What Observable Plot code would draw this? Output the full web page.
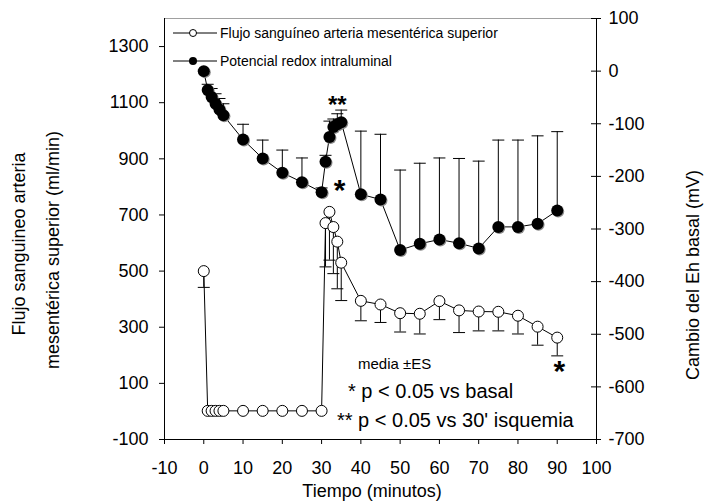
<!DOCTYPE html>
<html><head><meta charset="utf-8">
<script src="https://cdn.jsdelivr.net/npm/d3@7"></script>
<script src="https://cdn.jsdelivr.net/npm/@observablehq/plot@0.6"></script>
<style>
body{margin:0;background:#fff;}
#wrap{position:relative;width:704px;height:502px;font-family:"Liberation Sans",Arial,sans-serif;color:#000;overflow:hidden;}
#wrap svg{position:absolute;left:0;top:0;}
.t{position:absolute;white-space:nowrap;line-height:1;}
.rot{transform:translate(-50%,-50%) rotate(-90deg);}
.leg{position:absolute;left:172px;height:16px;display:flex;align-items:center;font-size:14px;white-space:nowrap;}
</style></head><body><div id="wrap"></div>
<script>
// ---- data ----
const tiempo   = [0, 1, 2, 3, 4, 5, 10, 15, 20, 25, 30, 31, 32, 33, 34, 35, 40, 45, 50, 55, 60, 65, 70, 75, 80, 85, 90];
const flujo    = [500, 2, 2, 2, 2, 2, 2, 2, 2, 2, 2, 671, 711, 657, 605, 530, 394, 381, 350, 348, 393, 360, 356, 355, 341, 302, 263];
const flujoES  = [58, 0, 0, 0, 0, 0, 0, 0, 0, 0, 0, 156, 172, 166, 168, 135, 71, 64, 67, 72, 66, 79, 69, 68, 65, 66, 65];
const redox    = [0, -36, -49, -62, -73, -84, -130, -166, -193, -211, -230, -172, -125, -106, -101, -97, -234, -244, -340, -328, -320, -327, -337, -296, -296, -290, -265];
const redoxES  = [2, 11, 16, 19, 21, 22, 29, 35, 43, 46, 8, 12, 30, 15, 20, 23, 120, 124, 152, 153, 155, 161, 166, 165, 165, 167, 150];
const xTicks   = [-10, 0, 10, 20, 30, 40, 50, 60, 70, 80, 90, 100];
const yTicksIzq = [-100, 100, 300, 500, 700, 900, 1100, 1300];
const yTicksDer = [-700, -600, -500, -400, -300, -200, -100, 0, 100];
const series   = ["Flujo sanguíneo arteria mesentérica superior", "Potencial redox intraluminal"];
const notas    = ["media \u00B1ES", "* p < 0.05 vs basal", "** p < 0.05 vs 30' isquemia"];
const tituloIzq = ["Flujo sanguineo arteria", "mesentérica superior (ml/min)"];
const tituloDer = "Cambio del Eh basal (mV)";
const tituloX  = "Tiempo (minutos)";

// ---- scales ----
const izqDom = [-100, 1400];
const derDom = [-700, 100];
const toIzq = v => izqDom[0] + (v - derDom[0]) * (izqDom[1] - izqDom[0]) / (derDom[1] - derDom[0]);
const toDer = L => derDom[0] + (L - izqDom[0]) * (derDom[1] - derDom[0]) / (izqDom[1] - izqDom[0]);

const rows = tiempo.map((t, i) => ({
  t, f: flujo[i], fLo: flujo[i] - flujoES[i], fe: flujoES[i],
  r: toIzq(redox[i]), rHi: toIzq(redox[i] + redoxES[i])
}));

const cap = {draw(ctx) { ctx.moveTo(-6, 0); ctx.lineTo(6, 0); }};

const font = "Liberation Sans, Arial, sans-serif";
const plot = Plot.plot({
  width: 704, height: 502,
  marginLeft: 164, marginRight: 108, marginTop: 18, marginBottom: 63,
  style: {fontFamily: font, fontSize: "18px", background: "transparent", color: "#000"},
  x: {domain: [-10, 100]},
  y: {domain: izqDom},
  marks: [
    Plot.ruleY([izqDom[1]], {stroke: "#a0a0a0"}),
    Plot.ruleX([-10], {stroke: "#000"}),
    Plot.ruleX([100], {stroke: "#000"}),
    Plot.ruleY([izqDom[0]], {stroke: "#000"}),
    Plot.axisX({ticks: xTicks, tickSize: 5, tickPadding: 17, tickFormat: d => String(d), label: null, fontSize: 18}),
    Plot.axisY({anchor: "left", ticks: yTicksIzq, tickSize: 5, tickPadding: 11, tickFormat: d => String(d), label: null, fontSize: 18}),
    Plot.axisY({anchor: "right", ticks: yTicksDer.map(toIzq), tickSize: 10, dx: -6, tickFormat: () => "", label: null}),
    Plot.axisY({anchor: "right", ticks: yTicksDer.map(toIzq), tickSize: 0, tickPadding: 12, tickFormat: d => String(Math.round(toDer(d))), label: null, fontSize: 18}),
    // error bars - flow (downward)
    Plot.ruleX(rows.filter(d => d.fe > 0), {x: "t", y1: "f", y2: "fLo", stroke: "#000", strokeWidth: 1}),
    Plot.dot(rows.filter(d => d.fe > 0), {x: "t", y: "fLo", symbol: cap, stroke: "#000", fill: "none", strokeWidth: 1}),
    // error bars - redox (upward)
    Plot.ruleX(rows, {x: "t", y1: "r", y2: "rHi", stroke: "#000", strokeWidth: 1}),
    Plot.dot(rows, {x: "t", y: "rHi", symbol: cap, stroke: "#000", fill: "none", strokeWidth: 1}),
    // lines
    Plot.line(rows, {x: "t", y: "r", stroke: "#000", strokeWidth: 1}),
    Plot.line(rows, {x: "t", y: "f", stroke: "#000", strokeWidth: 1}),
    // points
    Plot.dot(rows, {x: "t", y: "r", r: 6, fill: "#8c8c8c", dx: 1, dy: 1}),
    Plot.dot(rows, {x: "t", y: "r", r: 6, fill: "#000"}),
    Plot.dot(rows, {x: "t", y: "f", r: 5.5, fill: "#fff", stroke: "#000", strokeWidth: 1}),
    // significance marks
    Plot.text(rows.filter(d => d.t === 34), {x: "t", y: "r", text: () => "**", fontSize: 24, fontWeight: "bold", dy: -19, fill: "#000"}),
    Plot.text(rows.filter(d => d.t === 30), {x: "t", y: "r", text: () => "*", fontSize: 30, fontWeight: "bold", dx: 18, dy: -2, fill: "#000"}),
    Plot.text(rows.filter(d => d.t === 90), {x: "t", y: "f", text: () => "*", fontSize: 30, fontWeight: "bold", dx: 2, dy: 34, fill: "#000"})
  ]
});

const wrap = document.getElementById("wrap");
wrap.appendChild(plot);

function addText(txt, css, cls) {
  const d = document.createElement("div");
  d.className = "t " + (cls || "");
  d.textContent = txt;
  Object.assign(d.style, css);
  wrap.appendChild(d);
  return d;
}
// axis titles
addText(tituloIzq[0], {left: "19px", top: "244px", fontSize: "18px"}, "rot");
addText(tituloIzq[1], {left: "53px", top: "250px", fontSize: "18px"}, "rot");
addText(tituloDer, {left: "693px", top: "275px", fontSize: "18px"}, "rot");
addText(tituloX, {left: "372px", top: "482px", fontSize: "18px", transform: "translateX(-50%)"});
// notes
addText(notas[0], {left: "358px", top: "356px", fontSize: "15px"});
addText(notas[1], {left: "348px", top: "381px", fontSize: "20px"});
addText(notas[2], {left: "337px", top: "410px", fontSize: "20px"});
// legend
const legTops = [25, 53];
series.forEach((s, i) => {
  const row = document.createElement("div");
  row.className = "leg";
  row.style.top = legTops[i] + "px";
  const sym = i === 0
    ? '<svg width="46" height="16" style="position:static"><line x1="1" x2="45" y1="8" y2="8" stroke="#000"/><circle cx="21" cy="8" r="3.5" fill="#fff" stroke="#000"/></svg>'
    : '<svg width="46" height="16" style="position:static"><line x1="1" x2="45" y1="8" y2="8" stroke="#000"/><circle cx="21" cy="8" r="4" fill="#000"/></svg>';
  row.innerHTML = sym + '<span style="margin-left:2px">' + s + '</span>';
  wrap.appendChild(row);
});
</script>
</body></html>
